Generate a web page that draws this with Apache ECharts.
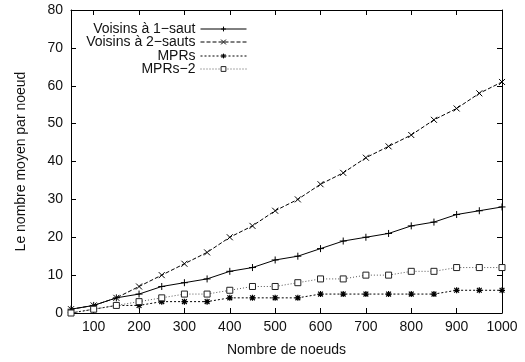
<!DOCTYPE html>
<html>
<head>
<meta charset="utf-8">
<script src="https://cdn.jsdelivr.net/npm/echarts@6/dist/echarts.min.js"></script>
<style>html,body{margin:0;padding:0;background:#fff}#c{width:525px;height:362px}</style>
</head>
<body>
<div id="c"></div>
<script>
const nodes = [50,100,150,200,250,300,350,400,450,500,550,600,650,700,750,800,850,900,950,1000];
const voisins1 = [1,2,4,5,7,8,9,11,12,14,15,17,19,20,21,23,24,26,27,28];
const voisins2 = [1,2,4,7,10,13,16,20,23,27,30,34,37,41,44,47,51,54,58,61];
const mprs = [0,1,2,2,3,3,3,4,4,4,4,5,5,5,5,5,5,6,6,6];
const mprs2 = [0,1,2,3,4,5,5,6,7,7,8,9,9,10,10,11,11,12,12,12];
const seriesNames = ['Voisins à 1\u2212saut','Voisins à 2\u2212sauts','MPRs','MPRs\u22122'];
const xTicks = [100,200,300,400,500,600,700,800,900,1000];

const FONT = '"Liberation Sans", Arial, Helvetica, sans-serif';
const TXT = '#111';
const pair = (ys) => nodes.map((x,i)=>[x, ys[i]]);

const chart = echarts.init(document.getElementById('c'), null, {renderer:'canvas'});

const xBase = {
  type:'value', min:50, max:1000,
  splitLine:{show:false},
  axisLine:{show:true, onZero:false, lineStyle:{color:'#000', width:1}},
  axisTick:{show:true, inside:true, length:5, customValues:xTicks, lineStyle:{color:'#000'}},
};
const yBase = {
  type:'value', min:0, max:80, interval:10,
  splitLine:{show:false},
  axisLine:{show:true, onZero:false, lineStyle:{color:'#000', width:1}},
  axisTick:{show:true, inside:true, length:5, lineStyle:{color:'#000'}},
};

const legendCommon = (name, top) => ({
  data:[name], orient:'vertical', right:278, top:top, padding:0,
  itemWidth:46, itemHeight:6, align:'right',
  lineStyle:{width:1},
  itemStyle:{borderWidth:1},
  textStyle:{fontFamily:FONT, fontSize:14, color:TXT}
});

chart.setOption({
  animation:false,
  backgroundColor:'#fff',
  grid:{left:71, right:23, top:10, bottom:49, show:false},
  legend:[
    legendCommon(seriesNames[0], 22),
    legendCommon(seriesNames[1], 35),
    legendCommon(seriesNames[2], 49),
    legendCommon(seriesNames[3], 62)
  ],
  xAxis:[
    Object.assign({}, xBase, {
      position:'bottom',
      name:'Nombre de noeuds', nameLocation:'middle', nameGap:30,
      nameTextStyle:{fontFamily:FONT, fontSize:14, color:TXT},
      axisLabel:{show:true, customValues:xTicks, formatter:(v)=>String(v), fontFamily:FONT, fontSize:14, color:TXT, margin:7}
    }),
    Object.assign({}, xBase, {position:'top', axisLabel:{show:false}})
  ],
  yAxis:[
    Object.assign({}, yBase, {
      position:'left',
      name:'Le nombre moyen par noeud', nameLocation:'middle', nameGap:43,
      nameTextStyle:{fontFamily:FONT, fontSize:14, color:TXT},
      axisLabel:{show:true, fontFamily:FONT, fontSize:14, color:TXT, margin:8}
    }),
    Object.assign({}, yBase, {position:'right', axisLabel:{show:false}})
  ],
  series:[
    {
      name:seriesNames[0], type:'line', data:pair(voisins1),
      symbol:'path://M0,5L10,5M5,0L5,10', symbolSize:7, showAllSymbol:true,
      lineStyle:{color:'#000', width:1, type:'solid'},
      itemStyle:{color:'rgba(0,0,0,0)', borderColor:'#000', borderWidth:1}
    },
    {
      name:seriesNames[1], type:'line', data:pair(voisins2),
      symbol:'path://M0,0L10,10M10,0L0,10', symbolSize:6, showAllSymbol:true,
      lineStyle:{color:'#000', width:1, type:[4,2]},
      itemStyle:{color:'rgba(0,0,0,0)', borderColor:'#000', borderWidth:1}
    },
    {
      name:seriesNames[2], type:'line', data:pair(mprs),
      symbol:'path://M0,5L10,5M5,0L5,10M1,1L9,9M9,1L1,9', symbolSize:6, showAllSymbol:true,
      lineStyle:{color:'#000', width:1, type:[2,2]},
      itemStyle:{color:'rgba(0,0,0,0)', borderColor:'#000', borderWidth:1.2}
    },
    {
      name:seriesNames[3], type:'line', data:pair(mprs2),
      symbol:'rect', symbolSize:6, showAllSymbol:true,
      lineStyle:{color:'#555', width:1, type:[1,2]},
      itemStyle:{color:'#fff', borderColor:'#222', borderWidth:1}
    }
  ]
});
</script>
</body>
</html>
